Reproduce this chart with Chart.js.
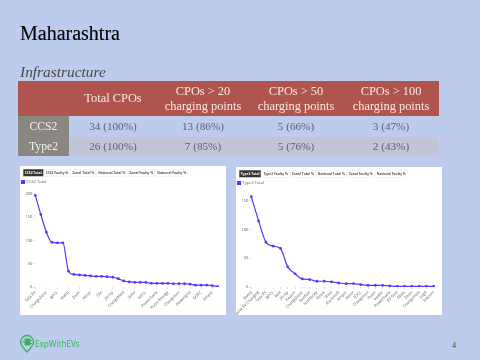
<!DOCTYPE html>
<html>
<head>
<meta charset="utf-8">
<script src="https://cdn.jsdelivr.net/npm/chart.js@4"></script>
<style>
    html, body { margin: 0; padding: 0; }
    body { width: 480px; height: 360px; background: #bdcced; position: relative; overflow: hidden; font-family: "Liberation Serif", serif; }
    .abs { position: absolute; white-space: nowrap; }
    #title { left: 20px; top: 20px; font-size: 20px; line-height: 26px; color: #000; -webkit-text-stroke: 0.15px #000; filter: blur(0.3px); }
    #subtitle { left: 20px; top: 62px; font-size: 15.4px; line-height: 20px; font-style: italic; color: #484848; filter: blur(0.3px); }
    #infra { position: absolute; left: 18px; top: 81px; width: 421px; height: 75px; border-collapse: collapse; table-layout: fixed; font-size: 11.2px; filter: blur(0.35px); }
    #infra td, #infra th { padding: 0; text-align: center; font-weight: normal; line-height: 15px; }
    #infra thead th { background: #b0544e; color: #f6e9e6; height: 35px; font-size: 12.4px; }
    #infra tbody th { background: #8a8681; color: #f2f2f2; font-size: 11.7px; }
    #infra tbody td { color: #5d6270; }
    #infra tbody tr:nth-child(1) { height: 21px; }
    #infra tbody tr:nth-child(2) { height: 19px; }
    #infra tbody tr:nth-child(2) td { background: #c1c6d6; }
    .panel { position: absolute; background: #fff; width: 206px; height: 149px; }
    #panelCcs { left: 20px; top: 166px; }
    #panelType { left: 236px; top: 167px; height: 148px; }
    .panel canvas { position: absolute; left: 0; top: 11px; filter: blur(0.35px); }
    /* tabs are laid out 3x and scaled down, tiny text gets rounded advances otherwise */
    .tabs { position: absolute; left: 3.3px; top: 3.3px; display: flex; gap: 2px; transform: scale(0.3333); transform-origin: 0 0; filter: blur(0.9px); }
    .tab { height: 22px; box-sizing: border-box; padding: 0 4px; font: bold 9.8px/20px "Open Sans", sans-serif; color: #555; border: 1px solid #e0e0e0; text-align: center; white-space: nowrap; }
    .tab.on { background: #333; color: #fff; }
    #logo { left: 19px; top: 334px; }
    #brand { left: 35px; top: 338.5px; font: 8.2px/10px "Open Sans", sans-serif; color: #37b45a; filter: blur(0.3px); }
    #pageNum { left: 452px; top: 341px; font-size: 8px; line-height: 10px; color: #444; }
</style>
</head>
<body>
<div class="abs" id="title">Maharashtra</div>
<div class="abs" id="subtitle">Infrastructure</div>
<table id="infra">
    <colgroup><col style="width:51px"><col style="width:88px"><col style="width:92px"><col style="width:94px"><col style="width:96px"></colgroup>
    <thead><tr><th></th><th>Total CPOs</th><th>CPOs &gt; 20<br>charging points</th><th>CPOs &gt; 50<br>charging points</th><th>CPOs &gt; 100<br>charging points</th></tr></thead>
    <tbody>
        <tr><th>CCS2</th><td>34 (100%)</td><td>13 (86%)</td><td>5 (66%)</td><td>3 (47%)</td></tr>
        <tr><th>Type2</th><td>26 (100%)</td><td>7 (85%)</td><td>5 (76%)</td><td>2 (43%)</td></tr>
    </tbody>
</table>

<div class="panel" id="panelCcs">
    <div class="tabs" id="tabsCcs"></div>
    <canvas id="chartCcs" width="206" height="138"></canvas>
</div>
<div class="panel" id="panelType">
    <div class="tabs" id="tabsType"></div>
    <canvas id="chartType" width="206" height="137"></canvas>
</div>

<svg class="abs" id="logo" width="16" height="20" viewBox="0 0 16 20">
    <path d="M8 1.5a6.5 6.5 0 0 1 6.5 6.5c0 3.5-3.5 6.5-6.5 10c-3-3.5-6.5-6.5-6.5-10A6.5 6.5 0 0 1 8 1.5z" fill="none" stroke="#37b45a" stroke-width="1.3"/>
    <path d="M2.5 8h3M6 5h5v6H6z M11 6.5h2 M11 9.5h2" fill="#37b45a" stroke="#37b45a" stroke-width="1"/>
</svg>
<div class="abs" id="brand">ExpWithEVs</div>
<div class="abs" id="pageNum">4</div>

<script>
const ccsTabs = ['CCS2 Total', 'CCS2 Faulty %', 'Zonal Total %', 'National Total %', 'Zonal Faulty %', 'National Faulty %'];
const typeTabs = ['Type2 Total', 'Type2 Faulty %', 'Zonal Total %', 'National Total %', 'Zonal Faulty %', 'National Faulty %'];

const ccsLabels = ['Tata EV', 'Zeon', 'ChargeZone', 'Ather', 'BPCL', 'Kazam', 'Statiq', 'Shell', 'Zeon', 'Glida', 'Ather', 'Relux', 'Ola', 'Bolt', 'Jio-bp', 'Numocity', 'ChargeMod', 'IOCL', 'Jioev', 'Electreefi', 'HPCL', 'Log9', 'Powerbank', 'MG', 'Pulse Energy', 'EVRE', 'Chargebee', 'Fortum', 'Powergrid', 'Exicom', 'GOEC', 'Volttic', 'Ample', 'Sunfuel'];
const ccsTotals = [197, 156, 118, 96, 95, 95, 34, 27, 26, 25, 24, 23, 23, 22, 21, 18, 13, 11, 10, 10, 10, 8, 8, 8, 8, 7, 7, 7, 6, 4, 4, 4, 3, 1];

const typeLabels = ['Statiq', 'Mahe EV Charging', 'Tata EV', 'BPCL', 'Bolt', 'Jio-bp', 'Kazam', 'ChargeZone', 'Sunfuel', 'Numocity', 'Relux', 'Shell', 'Electreefi', 'Ample', 'Ather', 'IOCL', 'Chargebee', 'Pulse', 'Volttic', 'Powerbank', 'EV Grid', 'Glida', 'Zeon', 'Chargemod', 'Log9', 'Exicom'];
const typeTotals = [157, 115, 78, 71, 67, 35, 23, 14, 13, 10, 10, 9, 7, 6, 6, 4, 3, 3, 3, 2, 1, 1, 1, 1, 1, 1];

const ccsTicks = [0, 50, 100, 150, 200];
const typeTicks = [0, 50, 100, 150];

function drawTabs(id, names) {
    const box = document.getElementById(id);
    names.forEach((name, i) => {
        const el = document.createElement('div');
        el.className = i === 0 ? 'tab on' : 'tab';
        el.textContent = name;
        box.appendChild(el);
    });
}

function drawChart(id, labels, values, name, ticks, yMax, skip, padding) {
    new Chart(document.getElementById(id), {
        type: 'line',
        data: {
            labels: labels,
            datasets: [{
                label: name,
                data: values,
                borderColor: '#5a35ff',
                backgroundColor: '#5a35ff',
                borderWidth: 1.2,
                pointRadius: 0.8,
                tension: 0.4,
                cubicInterpolationMode: 'monotone'
            }]
        },
        options: {
            responsive: false,
            animation: false,
            layout: { padding: padding },
            plugins: {
                tooltip: { enabled: false },
                legend: {
                    align: 'start',
                    labels: { boxWidth: 3, boxHeight: 3, padding: 1.5, color: '#555', font: { size: 4, family: 'Open Sans' } }
                }
            },
            scales: {
                x: {
                    grid: { drawOnChartArea: false, tickLength: 2, color: '#dcdcdc' },
                    border: { display: false },
                    afterFit: s => { s.height = 28; },
                    ticks: {
                        autoSkip: false,
                        minRotation: 45,
                        maxRotation: 45,
                        padding: 1,
                        color: '#555',
                        font: { size: 4, family: 'Open Sans' },
                        callback: function (v, i) { return i % skip === 0 ? this.getLabelForValue(v) : null; }
                    }
                },
                y: {
                    min: 0,
                    max: yMax,
                    afterFit: s => { s.width = 15.3; },
                    afterBuildTicks: s => { s.ticks = ticks.map(t => ({ value: t })); },
                    grid: { drawOnChartArea: false, tickLength: 2, color: '#dcdcdc' },
                    border: { display: false },
                    ticks: { padding: 1, color: '#555', font: { size: 4, family: 'Open Sans' } }
                }
            }
        }
    });
}

drawTabs('tabsCcs', ccsTabs);
drawTabs('tabsType', typeTabs);
drawChart('chartCcs', ccsLabels, ccsTotals, 'CCS2 Total', ccsTicks, 200, 2, { left: 0, right: 8.3, top: 1.5, bottom: 0 });
drawChart('chartType', typeLabels, typeTotals, 'Type2 Total', typeTicks, 160, 1, { left: 0, right: 8.3, top: 1.5, bottom: 0 });
</script>
</body>
</html>
